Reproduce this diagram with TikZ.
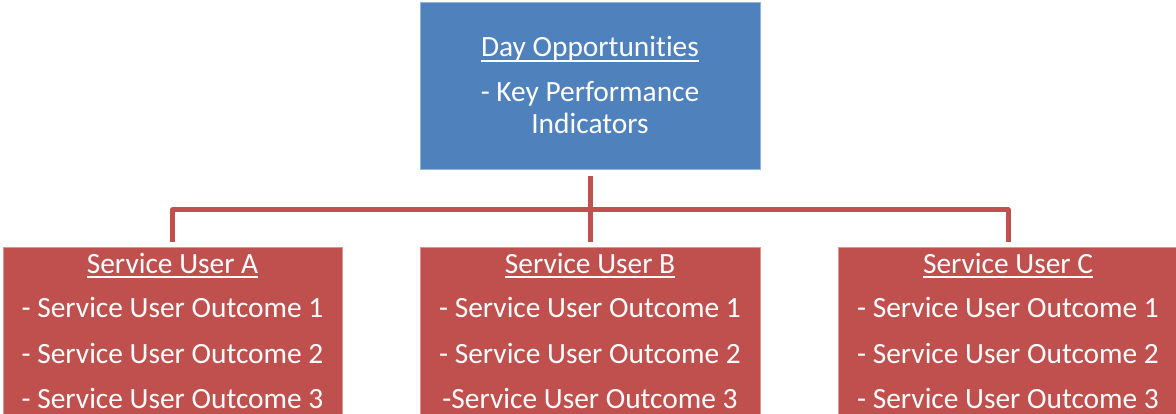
\documentclass[tikz,border=0pt]{standalone}
\usepackage{fontspec}
\setmainfont{Carlito}[Ligatures={NoCommon}]
\definecolor{kblue}{HTML}{4F81BD}
\definecolor{kred}{HTML}{C0504D}
\newcommand\myul[1]{\setbox0\hbox{#1}\rlap{\rule[-5pt]{\wd0}{2.4pt}}\box0}
\begin{document}
\begin{tikzpicture}[x=1pt,y=-1pt,
 box/.style={rectangle, inner sep=0pt, outer sep=0pt, anchor=north west},
 bluebox/.style={box, fill=kblue, draw=kblue!60!white, line width=1pt},
 redbox/.style={box, fill=kred, draw=kred!60!white, line width=1pt},
 txt/.style={anchor=base, text=white, font=\fontsize{29.4}{34}\selectfont, inner sep=0pt},
 link/.style={draw=kred, line width=5pt, line join=round}]
\useasboundingbox (0,0) rectangle (1176,414);
\clip (0,0) rectangle (1176,414);
\node[bluebox, minimum width=340pt, minimum height=167pt] (top) at (420,3) {};
\node[redbox, minimum width=339pt, minimum height=200pt] (A) at (3,248) {};
\node[redbox, minimum width=340pt, minimum height=200pt] (B) at (420,248) {};
\node[redbox, minimum width=340pt, minimum height=200pt] (C) at (838,248) {};
\node[txt, yshift=-54pt] (t1) at (top.north) {\myul{Day Opportunities}};
\node[txt, yshift=-99pt] (t2) at (top.north) {- Key Performance};
\node[txt, yshift=-131pt] (t3) at (top.north) {Indicators};
\node[txt, yshift=-25pt] (a0) at (A.north) {\myul{Service User A}};
\node[txt, yshift=-69pt] (a1) at (A.north) {- Service User Outcome 1};
\node[txt, yshift=-115pt] (a2) at (A.north) {- Service User Outcome 2};
\node[txt, yshift=-160pt] (a3) at (A.north) {- Service User Outcome 3};
\node[txt, yshift=-25pt] (b0) at (B.north) {\myul{Service User B}};
\node[txt, yshift=-69pt] (b1) at (B.north) {- Service User Outcome 1};
\node[txt, yshift=-115pt] (b2) at (B.north) {- Service User Outcome 2};
\node[txt, yshift=-160pt] (b3) at (B.north) {-Service User Outcome 3};
\node[txt, yshift=-25pt] (c0) at (C.north) {\myul{Service User C}};
\node[txt, yshift=-69pt] (c1) at (C.north) {- Service User Outcome 1};
\node[txt, yshift=-115pt] (c2) at (C.north) {- Service User Outcome 2};
\node[txt, yshift=-160pt] (c3) at (C.north) {- Service User Outcome 3};
\coordinate (hub) at (590,210);
\draw[link] ([yshift=-6pt]top.south) -- ([yshift=6pt]B.north);
\draw[link] ([yshift=6pt]A.north) |- (hub) -| ([yshift=6pt]C.north);
\end{tikzpicture}
\end{document}
